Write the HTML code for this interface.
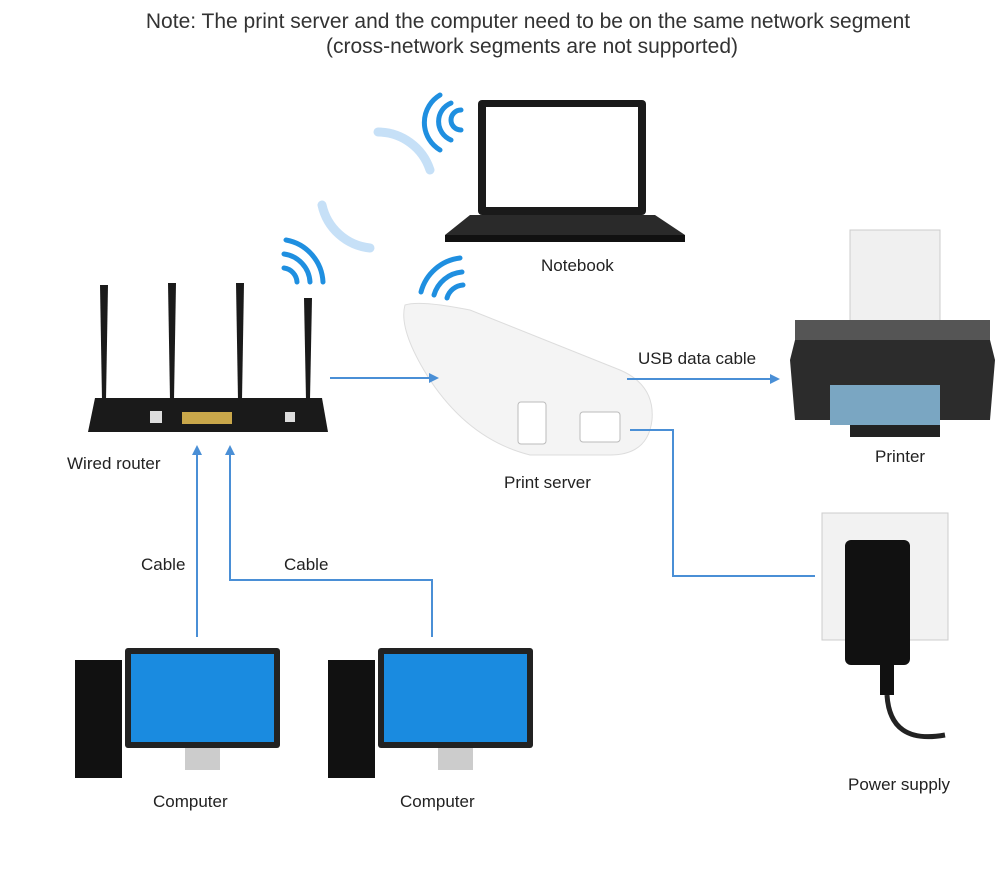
<!DOCTYPE html>
<html><head><meta charset="utf-8"><style>
body{margin:0;background:#fff;}
#c{position:relative;width:1000px;height:873px;overflow:hidden;font-family:"Liberation Sans",sans-serif;color:#222;}
.t{position:absolute;font-size:17px;white-space:nowrap;}
</style></head><body><div id="c">
<svg width="1000" height="873" style="position:absolute;left:0;top:0">
<defs><marker id="a" markerWidth="10" markerHeight="10" refX="8" refY="5" orient="auto" markerUnits="userSpaceOnUse"><path d="M0,0 L10,5 L0,10 z" fill="#4a8fd6"/></marker></defs>
<text x="528" y="28" font-size="21" text-anchor="middle" fill="#333" font-family="Liberation Sans">Note: The print server and the computer need to be on the same network segment</text>
<text x="532" y="53" font-size="21" text-anchor="middle" fill="#333" font-family="Liberation Sans">(cross-network segments are not supported)</text>
<!-- blurry arcs -->
<g fill="none" stroke="#c6e0f7" stroke-width="9" stroke-linecap="round">
<path d="M378,132 A55,55 0 0,1 430,170"/>
<path d="M322,205 A55,55 0 0,0 370,248"/>
</g>
<!-- wifi arcs -->
<g fill="none" stroke="#1f8fe0" stroke-width="5" stroke-linecap="round">
<path d="M440,95 A32,32 0 0,0 440,150"/><path d="M451,103 A20,20 0 0,0 451,140"/><path d="M461,110 A9,9 0 0,0 461,130"/>
<path d="M286,240 A45,45 0 0,1 323,282"/><path d="M284,254 A30,30 0 0,1 310,282"/><path d="M284,268 A15,15 0 0,1 297,282"/>
<path d="M421,292 A46,46 0 0,1 460,258"/><path d="M434,295 A32,32 0 0,1 462,272"/><path d="M447,298 A18,18 0 0,1 463,285"/>
</g>
<!-- laptop -->
<rect x="478" y="100" width="168" height="115" rx="4" fill="#1a1a1a"/>
<rect x="486" y="107" width="152" height="100" fill="#fff"/>
<path d="M470,215 L655,215 L685,235 L445,235 z" fill="#2a2a2a"/>
<rect x="445" y="235" width="240" height="7" fill="#111"/>
<!-- router -->
<g fill="#1a1a1a">
<path d="M100,285 l8,0 l-2,115 l-4,0z"/><path d="M168,283 l8,0 l-2,117 l-4,0z"/><path d="M236,283 l8,0 l-2,117 l-4,0z"/><path d="M304,298 l8,0 l-2,102 l-4,0z"/>
<path d="M95,398 L322,398 L328,432 L88,432 z"/>
</g>
<rect x="182" y="412" width="50" height="12" fill="#c9a74a"/>
<rect x="150" y="411" width="12" height="12" fill="#ddd"/>
<rect x="285" y="412" width="10" height="10" fill="#ddd"/>
<!-- print server -->
<path d="M405,305 Q420,300 470,310 L620,370 Q655,385 652,420 Q648,455 610,455 L530,455 Q470,440 430,380 Q398,330 405,305z" fill="#f4f4f4" stroke="#ddd"/>
<rect x="518" y="402" width="28" height="42" rx="3" fill="#fff" stroke="#bbb"/>
<rect x="580" y="412" width="40" height="30" rx="3" fill="#fff" stroke="#bbb"/>
<!-- printer -->
<rect x="850" y="230" width="90" height="100" fill="#f0f0f0" stroke="#ccc"/>
<path d="M800,320 L985,320 L995,360 L990,420 L795,420 L790,360z" fill="#2c2c2c"/>
<rect x="795" y="320" width="195" height="20" fill="#555"/>
<rect x="830" y="385" width="110" height="40" fill="#7aa6c2"/>
<rect x="850" y="425" width="90" height="12" fill="#222"/>
<!-- power -->
<rect x="822" y="513" width="126" height="127" fill="#f2f2f2" stroke="#ccc"/>
<rect x="845" y="540" width="65" height="125" rx="6" fill="#111"/>
<rect x="880" y="665" width="14" height="30" fill="#111"/>
<path d="M887,695 Q890,745 945,735" fill="none" stroke="#222" stroke-width="5"/>
<!-- computers -->
<g>
<rect x="75" y="660" width="47" height="118" fill="#111"/>
<rect x="125" y="648" width="155" height="100" rx="3" fill="#222"/>
<rect x="131" y="654" width="143" height="88" fill="#1a8be0"/>
<rect x="185" y="748" width="35" height="22" fill="#ccc"/>
<rect x="328" y="660" width="47" height="118" fill="#111"/>
<rect x="378" y="648" width="155" height="100" rx="3" fill="#222"/>
<rect x="384" y="654" width="143" height="88" fill="#1a8be0"/>
<rect x="438" y="748" width="35" height="22" fill="#ccc"/>
</g>
<!-- connectors -->
<g stroke="#4a8fd6" stroke-width="2" fill="none">
<path d="M330,378 L437,378" marker-end="url(#a)"/>
<path d="M627,379 L778,379" marker-end="url(#a)"/>
<path d="M630,430 L673,430 L673,576 L815,576"/>
<path d="M197,637 L197,447" marker-end="url(#a)"/>
<path d="M432,637 L432,580 L230,580 L230,447" marker-end="url(#a)"/>
</g>
</svg>
<div class="t" style="left:541px;top:256px">Notebook</div>
<div class="t" style="left:67px;top:454px">Wired router</div>
<div class="t" style="left:504px;top:473px">Print server</div>
<div class="t" style="left:638px;top:349px">USB data cable</div>
<div class="t" style="left:875px;top:447px">Printer</div>
<div class="t" style="left:141px;top:555px">Cable</div>
<div class="t" style="left:284px;top:555px">Cable</div>
<div class="t" style="left:153px;top:792px">Computer</div>
<div class="t" style="left:400px;top:792px">Computer</div>
<div class="t" style="left:848px;top:775px">Power supply</div>
</div></body></html>
